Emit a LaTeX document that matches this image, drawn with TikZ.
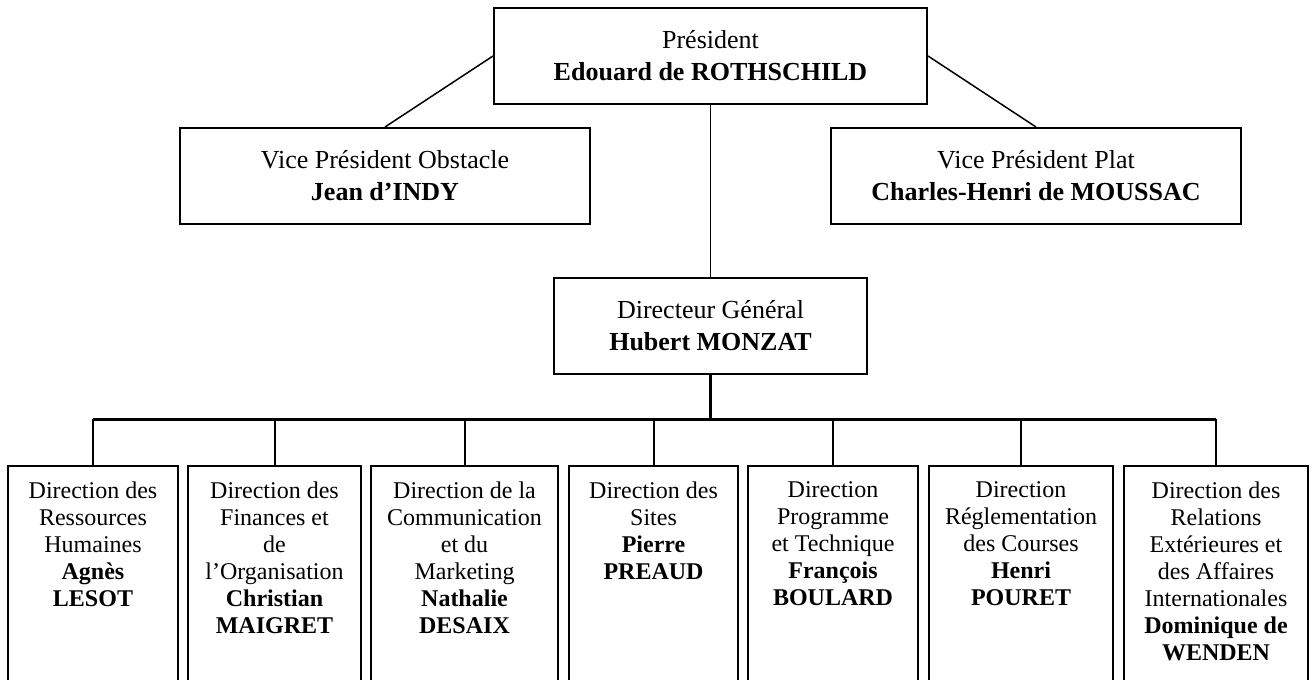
\documentclass[tikz,border=0pt]{standalone}
\usepackage{fontspec}
\setmainfont{Liberation Serif}
\newcommand{\chbox}[2]{\parbox[b][117pt][t]{#1}{\centering\vspace*{8pt}#2}}
\begin{document}
\begin{tikzpicture}[x=0.5pt,y=-0.5pt,
  topbox/.style={draw, line width=1pt, inner sep=0pt, align=center, font=\fontsize{13}{16}\selectfont},
  childbox/.style={draw, line width=1pt, inner sep=0pt, anchor=north, font=\fontsize{12}{13.5}\selectfont},
  thinlink/.style={line width=0.75pt},
  boldlink/.style={line width=1.5pt},
  childlink/.style={line width=1pt}]
\useasboundingbox (0,0) rectangle (1315,679);
% top level
\node[topbox, minimum width=216.5pt, minimum height=48pt] (pres) at (710.5,56) {Président\\\textbf{Edouard de ROTHSCHILD}};
\node[topbox, minimum width=205pt, minimum height=48pt] (vp1) at (385,176) {Vice Président Obstacle\\\textbf{Jean d’INDY}};
\node[topbox, minimum width=205pt, minimum height=48pt] (vp2) at (1036,176) {Vice Président Plat\\\textbf{Charles-Henri de MOUSSAC}};
\node[topbox, minimum width=156.5pt, minimum height=48pt] (dg) at (710.5,326) {Directeur Général\\\textbf{Hubert MONZAT}};
% children
\node[childbox] (c1) at (93,465) {\chbox{85pt}{Direction des\\Ressources\\Humaines\\\textbf{Agnès}\\\textbf{LESOT}}};
\node[childbox] (c2) at (274.5,465) {\chbox{86.5pt}{Direction des\\Finances et\\de\\l’Organisation\\\textbf{Christian}\\\textbf{MAIGRET}}};
\node[childbox] (c3) at (464.5,465) {\chbox{93.5pt}{Direction de la\\Communication\\et du\\Marketing\\\textbf{Nathalie}\\\textbf{DESAIX}}};
\node[childbox] (c4) at (653.5,465) {\chbox{84.5pt}{Direction des\\Sites\\\textbf{Pierre}\\\textbf{PREAUD}}};
\node[childbox] (c5) at (833,465) {\chbox{85pt}{Direction\\Programme\\et Technique\\\textbf{François}\\\textbf{BOULARD}}};
\node[childbox] (c6) at (1021,465) {\chbox{92pt}{Direction\\Réglementation\\des Courses\\\textbf{Henri}\\\textbf{POURET}}};
\node[childbox] (c7) at (1216,465) {\chbox{92pt}{Direction des\\Relations\\Extérieures et\\des Affaires\\Internationales\\\textbf{Dominique de}\\\textbf{WENDEN}}};
% connectors
\coordinate (busL) at (93,419);
\coordinate (busR) at (1216,419);
\draw[thinlink] (pres.west) -- (vp1.north);
\draw[thinlink] (pres.east) -- (vp2.north);
\draw[thinlink] (pres.south) -- (dg.north);
\draw[boldlink] (dg.south) -- (dg.south |- busL);
\draw[boldlink] (busL) -- (busR);
\foreach \c in {c1,c2,c3,c4,c5,c6,c7}
  \draw[childlink] (\c.north) -- (\c.north |- busL);
\end{tikzpicture}
\end{document}
